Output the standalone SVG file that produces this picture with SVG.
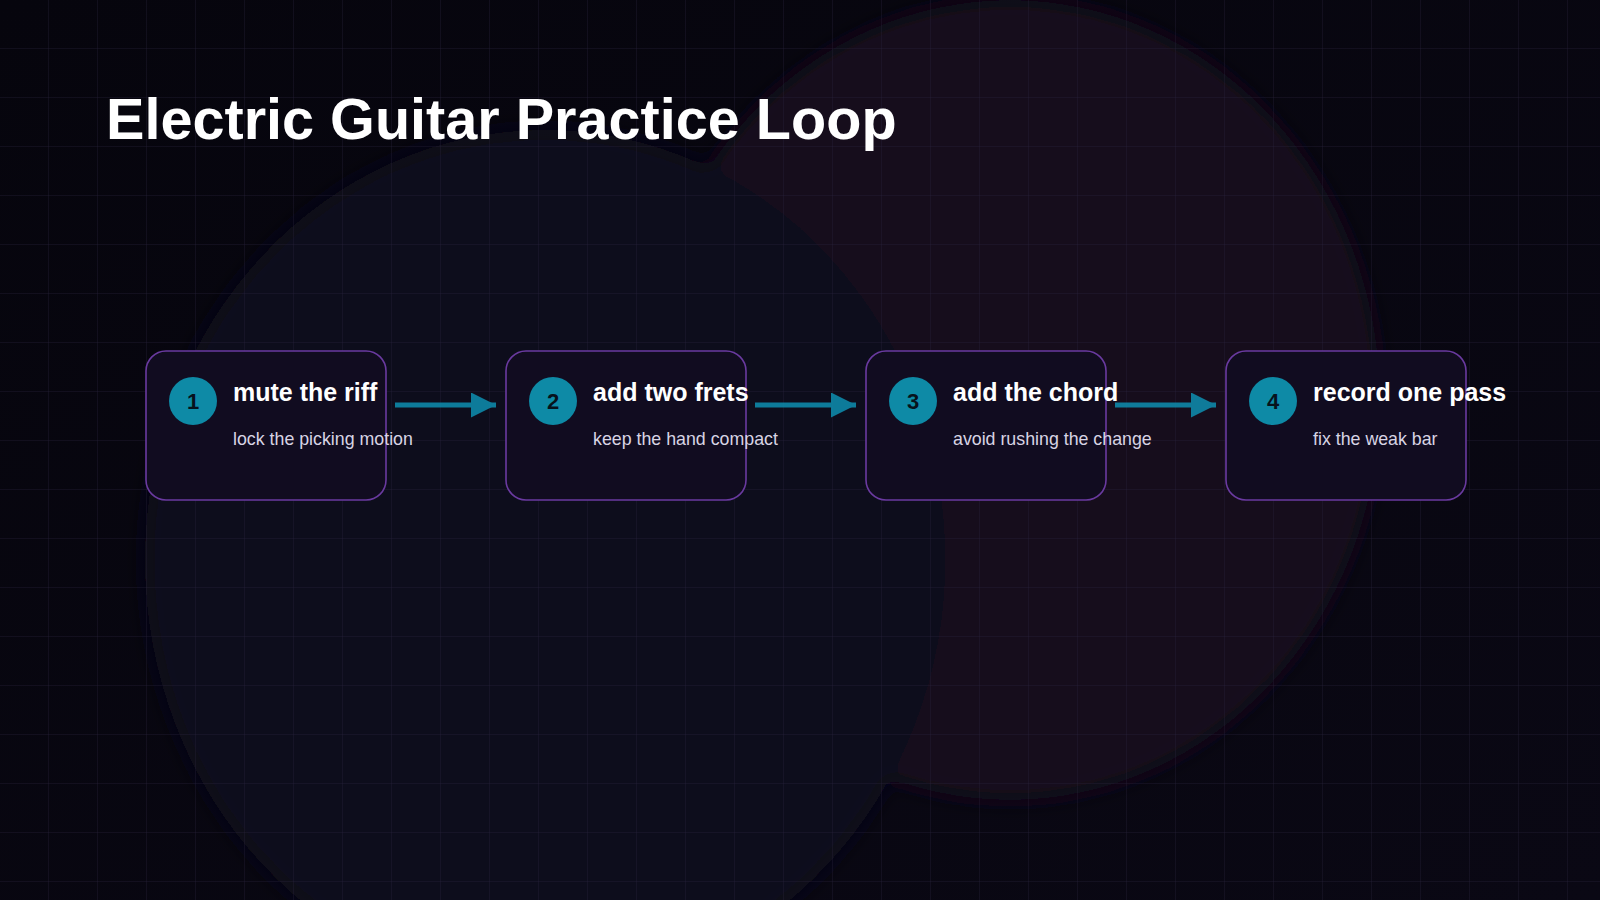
<svg xmlns="http://www.w3.org/2000/svg" width="1600" height="900" viewBox="0 0 1600 900">
<defs>
<pattern id="grid" width="49" height="49" patternUnits="userSpaceOnUse"><path d="M49 0V49M0 49H49" fill="none" stroke="#2a2440" stroke-width="1" opacity="0.6"/></pattern>
<marker id="ah" viewBox="0 0 10 10" refX="10" refY="5" markerWidth="5" markerHeight="5" markerUnits="strokeWidth" orient="auto"><path d="M0 0L10 5L0 10z" fill="#0e8fb0"/></marker>
<filter id="blur" x="-20%" y="-20%" width="140%" height="140%"><feGaussianBlur stdDeviation="10"/></filter>
<linearGradient id="bg" x1="0" y1="0" x2="1" y2="1"><stop offset="0" stop-color="#06050d"/><stop offset="1" stop-color="#0a0814"/></linearGradient>
<style>
.box{fill:#110c20;stroke:#6a3aa0;stroke-width:1.6}
.num{fill:#0e8aa6}
.numt{font:bold 22px "Liberation Sans",Arial,sans-serif;fill:#07121c;text-anchor:middle}
.t{font:bold 25px "Liberation Sans",Arial,sans-serif;fill:#ffffff}
.s{font:17.8px "Liberation Sans",Arial,sans-serif;fill:#d8d4e4}
.c{stroke:#0e8fb0;stroke-width:5;fill:none;marker-end:url(#ah);opacity:0.85}
</style>
</defs>
<rect width="1600" height="900" fill="url(#bg)"/>
<g filter="url(#blur)">
<ellipse cx="1010" cy="400" rx="370" ry="400" fill="#130a1c"/>
<ellipse cx="545" cy="560" rx="400" ry="430" fill="#0d0c1a"/>
</g>
<rect width="1600" height="900" fill="url(#grid)"/>
<text x="106" y="139" font-family="Liberation Sans,Arial,sans-serif" font-weight="bold" font-size="57.6" fill="#ffffff">Electric Guitar Practice Loop</text>
<g id="connectors">
<path class="c" d="M395 405H496"/>
<path class="c" d="M755 405H856"/>
<path class="c" d="M1115 405H1216"/>
</g>
<g id="n1"><rect class="box" x="146" y="351" width="240" height="149" rx="20"/><circle class="num" cx="193" cy="401" r="24"/><text class="numt" x="193" y="409">1</text><text class="t" x="233" y="401">mute the riff</text><text class="s" x="233" y="445">lock the picking motion</text></g>
<g id="n2"><rect class="box" x="506" y="351" width="240" height="149" rx="20"/><circle class="num" cx="553" cy="401" r="24"/><text class="numt" x="553" y="409">2</text><text class="t" x="593" y="401">add two frets</text><text class="s" x="593" y="445">keep the hand compact</text></g>
<g id="n3"><rect class="box" x="866" y="351" width="240" height="149" rx="20"/><circle class="num" cx="913" cy="401" r="24"/><text class="numt" x="913" y="409">3</text><text class="t" x="953" y="401">add the chord</text><text class="s" x="953" y="445">avoid rushing the change</text></g>
<g id="n4"><rect class="box" x="1226" y="351" width="240" height="149" rx="20"/><circle class="num" cx="1273" cy="401" r="24"/><text class="numt" x="1273" y="409">4</text><text class="t" x="1313" y="401">record one pass</text><text class="s" x="1313" y="445">fix the weak bar</text></g>
</svg>
